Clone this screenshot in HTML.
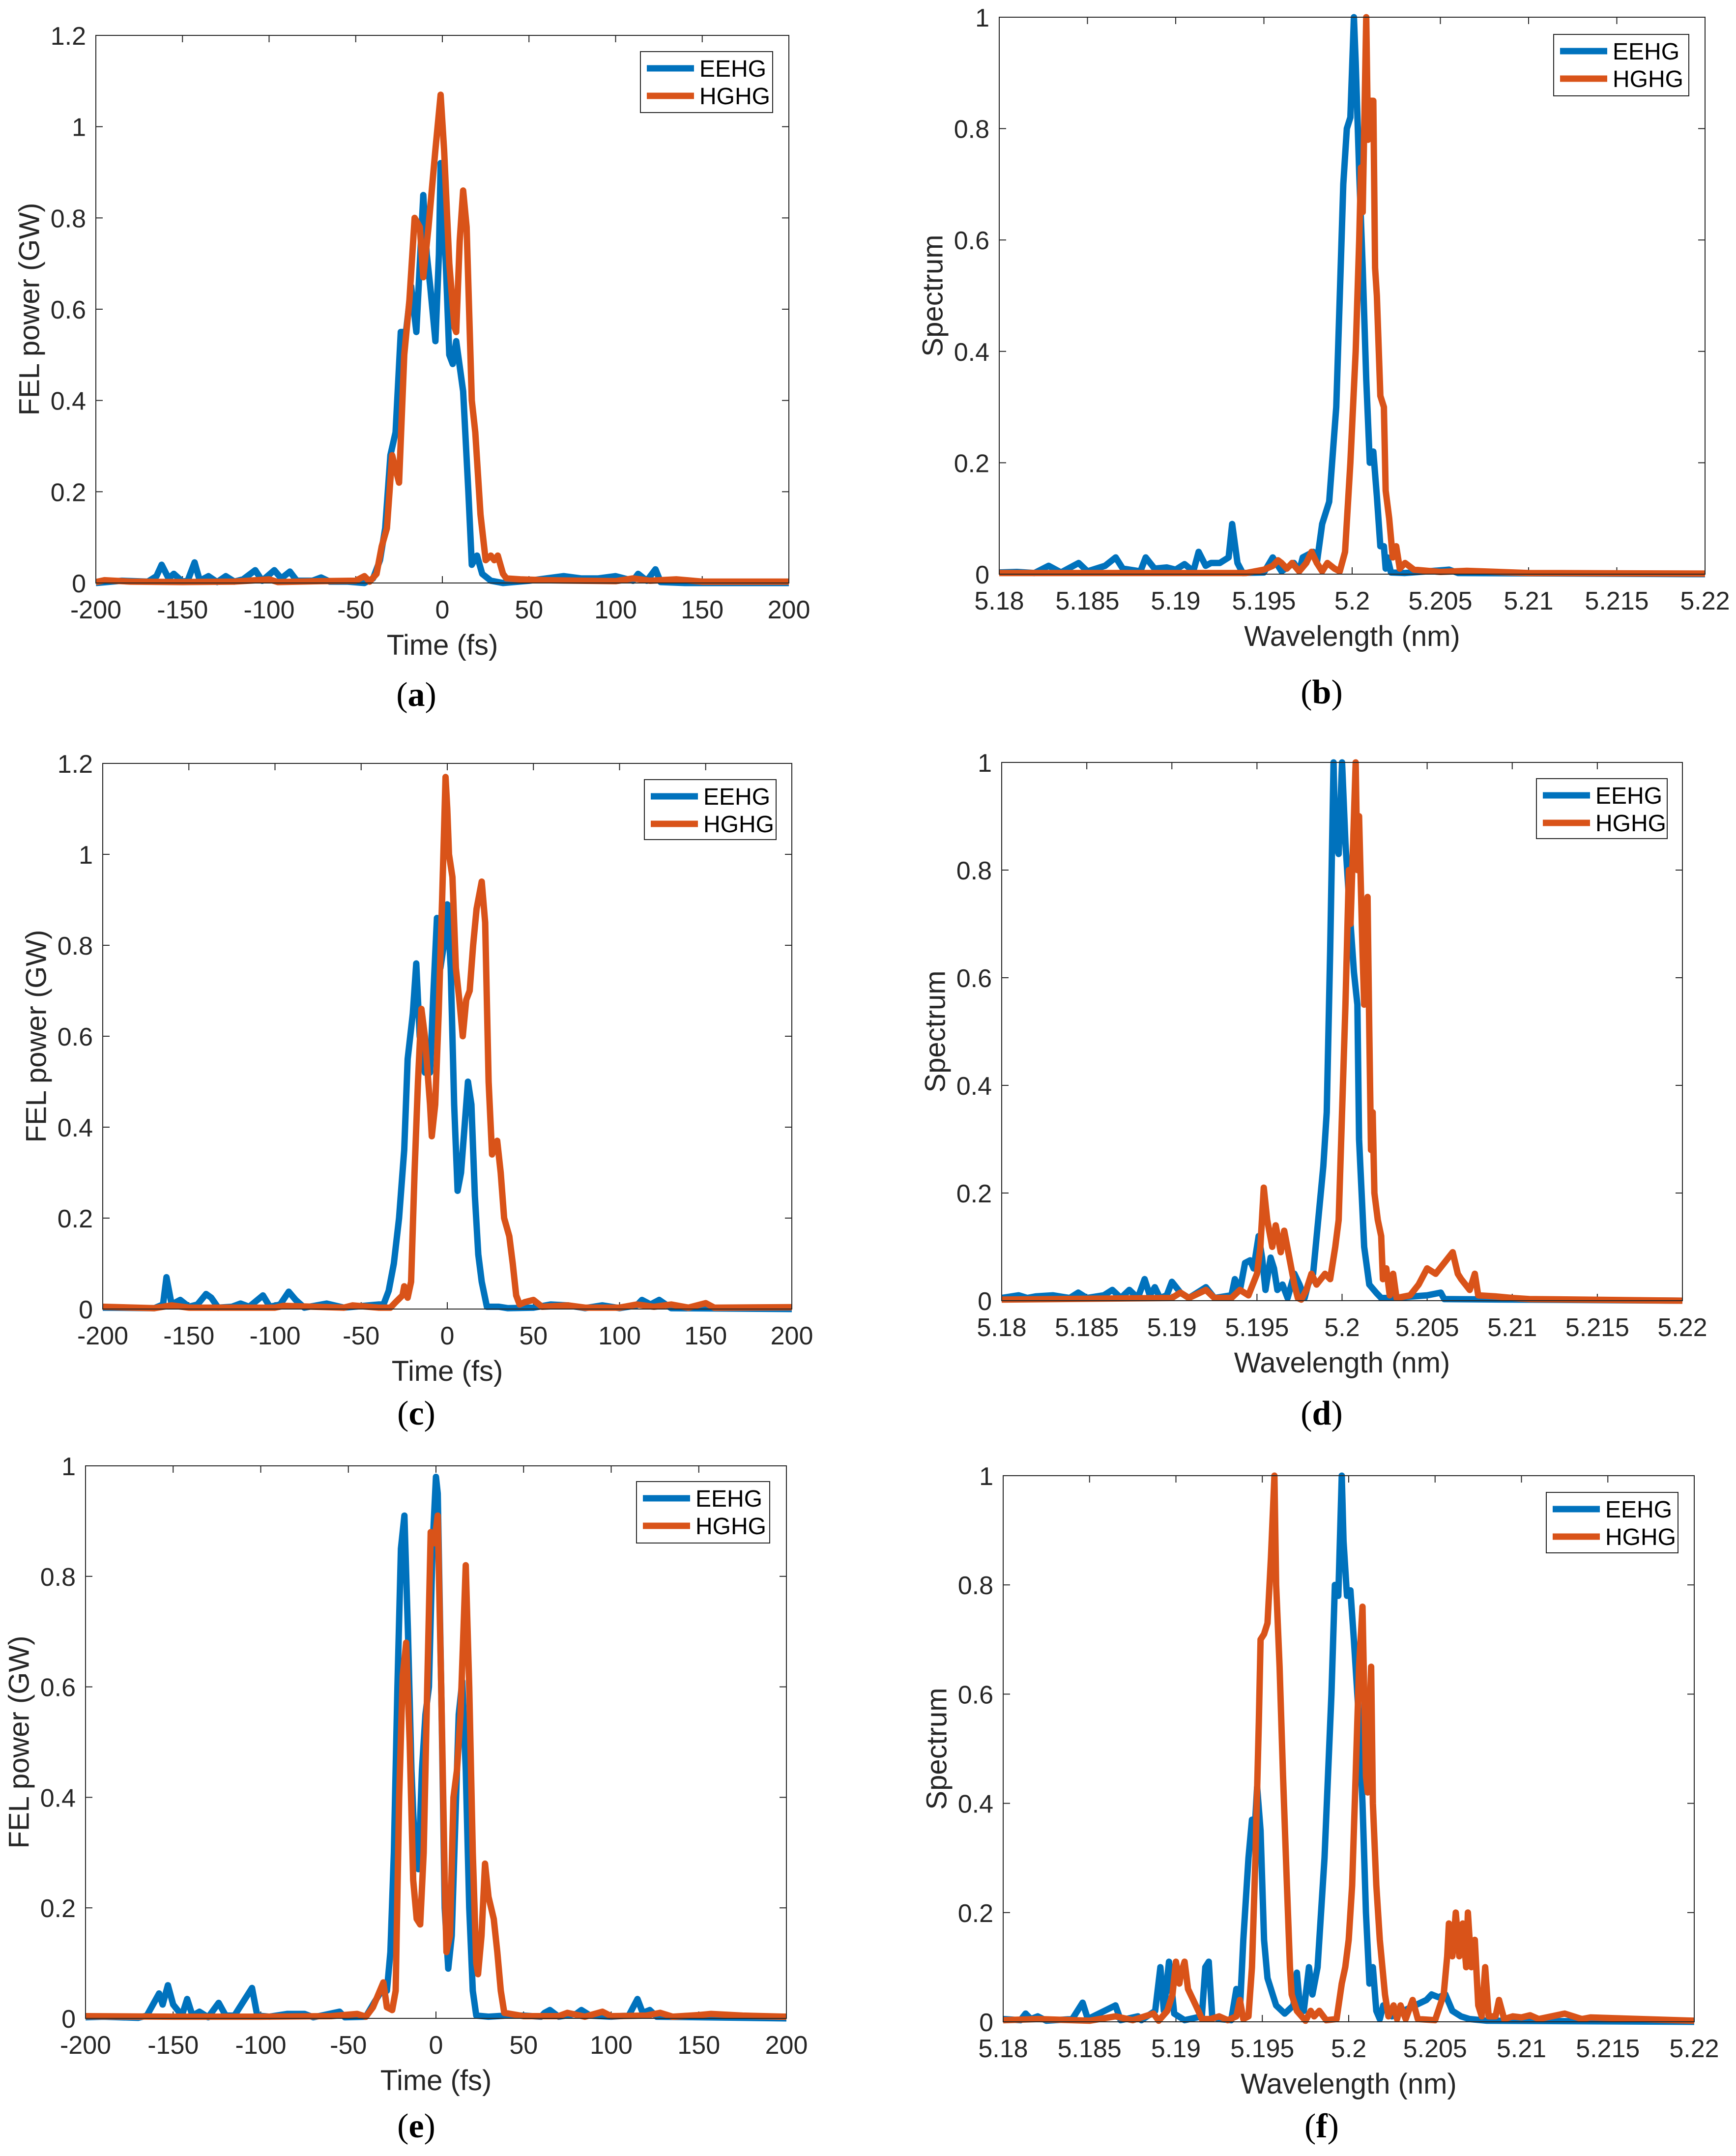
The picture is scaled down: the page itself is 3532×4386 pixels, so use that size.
<!DOCTYPE html>
<html><head><meta charset="utf-8"><style>
html,body{margin:0;padding:0;background:#fff;}
svg{display:block;}
text{font-family:"Liberation Sans",sans-serif;fill:#262626;}
</style></head><body>
<svg id="fig" xmlns="http://www.w3.org/2000/svg" width="3532" height="4386" viewBox="0 0 3532 4386"></svg>
<script>
// ---------- tick label arrays ----------
const timeTicks = [-200,-150,-100,-50,0,50,100,150,200];
const powTicks12 = [0,0.2,0.4,0.6,0.8,1,1.2];
const powTicks10 = [0,0.2,0.4,0.6,0.8,1];
const specTicks = [0,0.2,0.4,0.6,0.8,1];
const waveTicks = [5.18,5.185,5.19,5.195,5.2,5.205,5.21,5.215,5.22];
const waveTickLabels = ["5.18","5.185","5.19","5.195","5.2","5.205","5.21","5.215","5.22"];
const seriesNames = ["EEHG","HGHG"];

// ---------- series data [x, y] ----------
const aEEHG = [[-200,0],[-185,0.005],[-170,0.003],[-165,0.015],[-162,0.04],[-158,0.01],[-155,0.02],[-150,0.003],[-147,0.005],[-143,0.045],[-140,0.005],[-135,0.015],[-130,0.002],[-125,0.015],[-120,0.003],[-115,0.008],[-108,0.028],[-104,0.005],[-97,0.028],[-93,0.01],[-88,0.025],[-84,0.005],[-75,0.005],[-70,0.012],[-65,0.003],[-55,0.003],[-45,0],[-40,0.01],[-36,0.05],[-33,0.12],[-30,0.28],[-27,0.33],[-24,0.55],[-21,0.55],[-18,0.65],[-15,0.55],[-11,0.85],[-9,0.72],[-7,0.65],[-4,0.53],[-2,0.72],[-1,0.92],[2,0.7],[4,0.5],[6,0.48],[8,0.53],[12,0.42],[15,0.2],[17,0.04],[20,0.06],[23,0.02],[28,0.005],[35,0],[50,0.005],[60,0.01],[70,0.015],[80,0.01],[90,0.01],[100,0.015],[110,0.005],[113,0.02],[118,0.005],[123,0.03],[126,0.002],[140,0],[200,0]];
const aHGHG = [[-200,0.002],[-195,0.006],[-180,0.003],[-150,0.002],[-120,0.003],[-100,0.008],[-95,0.002],[-70,0.004],[-50,0.005],[-45,0.015],[-42,0.003],[-38,0.02],[-35,0.08],[-32,0.12],[-29,0.28],[-25,0.22],[-22,0.5],[-19,0.62],[-16,0.8],[-13,0.78],[-11,0.67],[-8,0.78],[-4,0.95],[-1,1.07],[1,0.95],[4,0.7],[7,0.56],[8,0.55],[10,0.75],[12,0.86],[14,0.78],[17,0.4],[19,0.33],[22,0.15],[25,0.05],[28,0.06],[30,0.05],[32,0.06],[35,0.02],[37,0.01],[45,0.008],[60,0.006],[80,0.005],[100,0.004],[110,0.01],[120,0.005],[135,0.008],[150,0.003],[200,0.003]];
const cEEHG = [[-200,0.003],[-170,0.002],[-165,0.01],[-163,0.07],[-160,0.01],[-155,0.02],[-150,0.005],[-145,0.01],[-140,0.033],[-137,0.025],[-133,0.003],[-125,0.005],[-120,0.012],[-115,0.005],[-107,0.03],[-103,0.005],[-97,0.01],[-92,0.038],[-88,0.02],[-83,0.003],[-70,0.012],[-60,0.003],[-40,0.01],[-37,0.01],[-34,0.04],[-31,0.1],[-28,0.2],[-25,0.35],[-23,0.55],[-20,0.65],[-18,0.76],[-16,0.6],[-13,0.52],[-10,0.52],[-8,0.7],[-6,0.86],[-4,0.75],[-2,0.8],[0,0.89],[2,0.75],[4,0.45],[6,0.26],[8,0.3],[10,0.4],[12,0.5],[14,0.45],[16,0.25],[18,0.12],[20,0.06],[23,0.005],[30,0.005],[35,0.002],[50,0.003],[60,0.01],[70,0.008],[80,0.002],[90,0.008],[100,0.002],[110,0.008],[113,0.02],[118,0.01],[123,0.02],[130,0.002],[200,0]];
const cHGHG = [[-200,0.005],[-170,0.002],[-160,0.008],[-150,0.003],[-100,0.003],[-95,0.007],[-60,0.003],[-55,0.008],[-40,0.003],[-33,0.003],[-30,0.015],[-26,0.03],[-25,0.05],[-23,0.025],[-21,0.06],[-19,0.3],[-17,0.5],[-15,0.66],[-13,0.6],[-10,0.45],[-9,0.38],[-7,0.45],[-5,0.65],[-3,0.9],[-1,1.17],[0,1.1],[1,1.0],[3,0.95],[5,0.75],[7,0.68],[9,0.6],[11,0.68],[13,0.7],[15,0.8],[17,0.88],[20,0.94],[22,0.85],[24,0.5],[26,0.34],[29,0.37],[31,0.3],[33,0.2],[36,0.16],[38,0.1],[40,0.03],[42,0.01],[45,0.015],[50,0.02],[55,0.005],[70,0.008],[80,0.003],[100,0.003],[110,0.01],[120,0.005],[130,0.01],[140,0.003],[150,0.013],[155,0.003],[200,0.004]];
const eEEHG = [[-200,0.002],[-190,0.003],[-170,0.001],[-165,0.005],[-158,0.045],[-156,0.025],[-153,0.06],[-150,0.025],[-145,0.005],[-142,0.035],[-139,0.005],[-135,0.012],[-130,0.002],[-124,0.028],[-120,0.005],[-115,0.005],[-105,0.055],[-102,0.005],[-95,0.003],[-85,0.008],[-75,0.008],[-70,0.002],[-55,0.012],[-52,0.002],[-40,0.003],[-35,0.03],[-31,0.05],[-28,0.05],[-26,0.12],[-24,0.3],[-22,0.6],[-20,0.85],[-18,0.91],[-16,0.7],[-14,0.45],[-12,0.3],[-10,0.27],[-8,0.45],[-6,0.55],[-4,0.6],[-2,0.85],[0,0.98],[1,0.95],[3,0.6],[5,0.2],[7,0.09],[9,0.15],[11,0.35],[13,0.55],[15,0.61],[17,0.45],[19,0.2],[21,0.05],[23,0.005],[30,0.003],[40,0.005],[50,0.005],[60,0.003],[62,0.01],[65,0.015],[70,0.003],[80,0.008],[83,0.015],[88,0.005],[100,0.003],[110,0.005],[115,0.035],[118,0.01],[122,0.015],[126,0.003],[200,0]];
const eHGHG = [[-200,0.004],[-150,0.003],[-100,0.003],[-60,0.004],[-45,0.008],[-40,0.003],[-36,0.02],[-32,0.05],[-30,0.065],[-28,0.02],[-25,0.015],[-23,0.05],[-21,0.4],[-19,0.62],[-17,0.68],[-15,0.5],[-13,0.25],[-11,0.18],[-9,0.17],[-7,0.3],[-5,0.6],[-3,0.88],[-1,0.86],[1,0.91],[3,0.6],[5,0.25],[6,0.12],[8,0.15],[10,0.4],[12,0.45],[14,0.55],[17,0.82],[19,0.6],[21,0.3],[23,0.1],[24,0.08],[26,0.15],[28,0.28],[30,0.22],[33,0.18],[35,0.12],[37,0.05],[39,0.01],[50,0.004],[70,0.004],[75,0.01],[85,0.003],[95,0.012],[100,0.004],[120,0.005],[128,0.01],[135,0.003],[150,0.006],[157,0.008],[175,0.005],[200,0.003]];
const bEEHG = [[5.18,0.003],[5.181,0.004],[5.182,0.002],[5.1828,0.015],[5.1835,0.003],[5.1845,0.02],[5.185,0.005],[5.186,0.015],[5.1866,0.03],[5.187,0.01],[5.188,0.005],[5.1883,0.03],[5.1888,0.01],[5.1895,0.012],[5.19,0.008],[5.1905,0.018],[5.191,0.005],[5.1913,0.04],[5.1917,0.015],[5.192,0.02],[5.1925,0.02],[5.193,0.03],[5.1932,0.09],[5.1935,0.02],[5.1938,0.002],[5.195,0.003],[5.1955,0.03],[5.196,0.005],[5.1967,0.02],[5.197,0.005],[5.1972,0.03],[5.1978,0.04],[5.198,0.02],[5.1983,0.09],[5.1987,0.13],[5.1991,0.3],[5.1993,0.5],[5.1995,0.7],[5.1997,0.8],[5.1999,0.82],[5.2001,1.0],[5.2002,0.92],[5.2004,0.72],[5.2006,0.55],[5.2008,0.35],[5.201,0.2],[5.2012,0.22],[5.2014,0.14],[5.2016,0.05],[5.2018,0.05],[5.2019,0.01],[5.202,0.03],[5.2022,0.003],[5.203,0.002],[5.2055,0.008],[5.206,0.002],[5.22,0]];
const bHGHG = [[5.18,0.002],[5.19,0.002],[5.194,0.002],[5.1945,0.005],[5.195,0.008],[5.1955,0.015],[5.1958,0.025],[5.196,0.02],[5.1963,0.01],[5.1966,0.02],[5.197,0.005],[5.1974,0.02],[5.1977,0.04],[5.198,0.02],[5.1983,0.005],[5.1986,0.02],[5.199,0.01],[5.1993,0.005],[5.1996,0.04],[5.1999,0.2],[5.2002,0.4],[5.2004,0.6],[5.2005,0.73],[5.2006,0.65],[5.2008,1.0],[5.2009,0.78],[5.201,0.85],[5.2012,0.85],[5.2013,0.55],[5.2014,0.5],[5.2016,0.32],[5.2018,0.3],[5.2019,0.15],[5.2021,0.1],[5.2023,0.03],[5.2025,0.05],[5.2027,0.01],[5.203,0.02],[5.2035,0.008],[5.205,0.004],[5.2065,0.006],[5.21,0.002],[5.22,0.001]];
const dEEHG = [[5.18,0.005],[5.181,0.01],[5.1815,0.005],[5.182,0.008],[5.183,0.01],[5.184,0.005],[5.1845,0.015],[5.185,0.005],[5.186,0.01],[5.1865,0.02],[5.187,0.005],[5.1875,0.02],[5.188,0.005],[5.1884,0.04],[5.1887,0.01],[5.189,0.025],[5.1893,0.005],[5.1897,0.01],[5.19,0.035],[5.1905,0.015],[5.191,0.005],[5.192,0.025],[5.1925,0.005],[5.1935,0.01],[5.1937,0.04],[5.194,0.02],[5.1943,0.07],[5.1946,0.075],[5.1948,0.06],[5.1951,0.12],[5.1953,0.08],[5.1955,0.02],[5.1958,0.08],[5.196,0.06],[5.1962,0.02],[5.1965,0.03],[5.1968,0.005],[5.1972,0.05],[5.1975,0.03],[5.1978,0.005],[5.198,0.03],[5.1983,0.05],[5.1986,0.15],[5.1989,0.25],[5.1991,0.35],[5.1993,0.65],[5.1995,1.0],[5.1996,0.85],[5.1998,0.83],[5.2,1.0],[5.2002,0.85],[5.2005,0.7],[5.2007,0.61],[5.2009,0.55],[5.201,0.3],[5.2013,0.1],[5.2016,0.03],[5.202,0.015],[5.2023,0.005],[5.203,0.005],[5.205,0.01],[5.2058,0.015],[5.206,0.003],[5.21,0.002],[5.22,0]];
const dHGHG = [[5.18,0.002],[5.19,0.005],[5.1905,0.015],[5.191,0.005],[5.192,0.02],[5.1925,0.005],[5.1935,0.005],[5.194,0.02],[5.1945,0.01],[5.195,0.05],[5.1952,0.1],[5.1954,0.21],[5.1956,0.15],[5.1959,0.1],[5.1961,0.14],[5.1964,0.09],[5.1966,0.13],[5.1969,0.08],[5.1972,0.03],[5.1974,0.005],[5.1976,0.002],[5.1979,0.02],[5.1982,0.05],[5.1985,0.03],[5.199,0.05],[5.1993,0.04],[5.1996,0.1],[5.1998,0.15],[5.2,0.35],[5.2002,0.55],[5.2004,0.8],[5.2005,0.7],[5.2007,0.9],[5.2008,1.0],[5.2009,0.8],[5.201,0.9],[5.2012,0.65],[5.2013,0.55],[5.2015,0.75],[5.2016,0.5],[5.2017,0.28],[5.2018,0.35],[5.2019,0.2],[5.2021,0.15],[5.2023,0.12],[5.2024,0.04],[5.2026,0.06],[5.2028,0.01],[5.203,0.05],[5.2032,0.005],[5.204,0.01],[5.2045,0.03],[5.205,0.06],[5.2055,0.05],[5.206,0.07],[5.2065,0.09],[5.2068,0.05],[5.207,0.04],[5.2075,0.02],[5.2078,0.05],[5.208,0.01],[5.209,0.008],[5.21,0.005],[5.211,0.003],[5.22,0]];
const fEEHG = [[5.18,0.005],[5.181,0.003],[5.1813,0.015],[5.1816,0.005],[5.182,0.01],[5.1825,0.002],[5.184,0.005],[5.1843,0.02],[5.1846,0.035],[5.1849,0.005],[5.1865,0.03],[5.1868,0.003],[5.1878,0.01],[5.188,0.003],[5.1888,0.02],[5.1891,0.1],[5.1893,0.02],[5.1896,0.11],[5.1899,0.015],[5.1905,0.003],[5.1915,0.01],[5.1917,0.1],[5.1919,0.11],[5.1921,0.01],[5.1925,0.005],[5.1932,0.003],[5.1935,0.06],[5.1937,0.02],[5.1939,0.15],[5.1942,0.3],[5.1944,0.37],[5.1945,0.32],[5.1947,0.43],[5.1949,0.35],[5.1951,0.15],[5.1953,0.08],[5.1956,0.05],[5.1958,0.03],[5.1963,0.015],[5.1968,0.03],[5.197,0.09],[5.1972,0.02],[5.1974,0.02],[5.1977,0.1],[5.1979,0.05],[5.1982,0.1],[5.1986,0.3],[5.199,0.6],[5.1992,0.8],[5.1994,0.78],[5.1996,1.0],[5.1997,0.88],[5.1999,0.78],[5.2001,0.79],[5.2003,0.7],[5.2006,0.55],[5.2008,0.4],[5.201,0.2],[5.2012,0.07],[5.2014,0.1],[5.2016,0.02],[5.2018,0.005],[5.202,0.03],[5.2025,0.01],[5.2045,0.04],[5.2048,0.05],[5.2052,0.045],[5.2056,0.05],[5.206,0.02],[5.2065,0.01],[5.207,0.005],[5.208,0.002],[5.22,0]];
const fHGHG = [[5.18,0.003],[5.182,0.005],[5.185,0.002],[5.1865,0.01],[5.1875,0.003],[5.1887,0.015],[5.189,0.002],[5.1895,0.02],[5.1898,0.05],[5.19,0.11],[5.1902,0.07],[5.1903,0.09],[5.1905,0.11],[5.1907,0.06],[5.191,0.04],[5.1913,0.02],[5.1915,0.005],[5.192,0.005],[5.1925,0.01],[5.193,0.003],[5.1935,0.01],[5.1937,0.04],[5.1939,0.005],[5.1942,0.01],[5.1944,0.1],[5.1946,0.3],[5.1948,0.55],[5.1949,0.7],[5.1951,0.71],[5.1953,0.73],[5.1955,0.85],[5.1957,1.0],[5.1958,0.8],[5.196,0.65],[5.1962,0.45],[5.1964,0.27],[5.1966,0.1],[5.1967,0.05],[5.197,0.02],[5.1975,0.002],[5.1978,0.02],[5.198,0.01],[5.1983,0.02],[5.1987,0.003],[5.1993,0.005],[5.1996,0.07],[5.1998,0.1],[5.2,0.15],[5.2002,0.25],[5.2004,0.45],[5.2006,0.65],[5.2008,0.76],[5.2009,0.6],[5.201,0.45],[5.2011,0.42],[5.2012,0.55],[5.2013,0.65],[5.2014,0.4],[5.2016,0.25],[5.2018,0.15],[5.2021,0.05],[5.2023,0.01],[5.2026,0.03],[5.2028,0.005],[5.203,0.03],[5.2033,0.005],[5.2037,0.04],[5.204,0.005],[5.205,0.003],[5.2055,0.05],[5.2057,0.12],[5.2058,0.18],[5.206,0.12],[5.2062,0.2],[5.2064,0.12],[5.2066,0.18],[5.2068,0.1],[5.2069,0.2],[5.2071,0.1],[5.2073,0.15],[5.2075,0.03],[5.2077,0.01],[5.2079,0.1],[5.2081,0.01],[5.2085,0.01],[5.2087,0.04],[5.209,0.005],[5.2095,0.01],[5.21,0.008],[5.2105,0.012],[5.211,0.005],[5.2125,0.015],[5.2135,0.005],[5.214,0.008],[5.22,0.002]];

// ---------- layout ----------
const NS = "http://www.w3.org/2000/svg";
const svg = document.getElementById('fig');
const COLORS = ["#0072BD","#D95319"];
function mk(tag, attrs, parent){ const e=document.createElementNS(NS,tag); for(const k in attrs) e.setAttribute(k,attrs[k]); (parent||svg).appendChild(e); return e; }
function fmt(v){ return (Math.round(v*10)/10).toString(); }

const panels = [
 {id:'a', L:195, R:1605, T:72, B:1186, xmin:-200,xmax:200, ymax:1.2, xt:timeTicks, xl:timeTicks.map(String), yt:powTicks12, xtitle:"Time (fs)", ytitle:"FEL power (GW)", leg:[1303,105,269,124], lab:[847,1436], s:[aEEHG,aHGHG]},
 {id:'b', L:2033, R:3469, T:35, B:1168, xmin:5.18,xmax:5.22, ymax:1, xt:waveTicks, xl:waveTickLabels, yt:specTicks, xtitle:"Wavelength (nm)", ytitle:"Spectrum", leg:[3161,70,275,125], lab:[2689,1431], s:[bEEHG,bHGHG]},
 {id:'c', L:209, R:1611, T:1553, B:2663, xmin:-200,xmax:200, ymax:1.2, xt:timeTicks, xl:timeTicks.map(String), yt:powTicks12, xtitle:"Time (fs)", ytitle:"FEL power (GW)", leg:[1311,1586,268,122], lab:[847,2898], s:[cEEHG,cHGHG]},
 {id:'d', L:2038, R:3423, T:1551, B:2646, xmin:5.18,xmax:5.22, ymax:1, xt:waveTicks, xl:waveTickLabels, yt:specTicks, xtitle:"Wavelength (nm)", ytitle:"Spectrum", leg:[3126,1584,266,122], lab:[2689,2898], s:[dEEHG,dHGHG]},
 {id:'e', L:174, R:1600, T:2982, B:4106, xmin:-200,xmax:200, ymax:1, xt:timeTicks, xl:timeTicks.map(String), yt:powTicks10, xtitle:"Time (fs)", ytitle:"FEL power (GW)", leg:[1295,3014,271,125], lab:[847,4348], s:[eEEHG,eHGHG]},
 {id:'f', L:2041, R:3447, T:3002, B:4113, xmin:5.18,xmax:5.22, ymax:1, xt:waveTicks, xl:waveTickLabels, yt:specTicks, xtitle:"Wavelength (nm)", ytitle:"Spectrum", leg:[3146,3036,268,123], lab:[2689,4348], s:[fEEHG,fHGHG]}
];

panels.forEach(p=>{
  const g = mk('g',{});
  
  
  const X = v => p.L + (v-p.xmin)/(p.xmax-p.xmin)*(p.R-p.L);
  const Y = v => p.B - v/p.ymax*(p.B-p.T);
  const clipId='clip'+p.id;
  const cp=mk('clipPath',{id:clipId},g); mk('rect',{x:p.L,y:p.T-10,width:p.R-p.L,height:p.B-p.T+20},cp);
  p.xt.forEach((v,i)=>{
    const x=X(v);
    const t1=mk('line',{x1:x,y1:p.B,x2:x,y2:p.B-14,stroke:'#262626','stroke-width':2},g);
     
    mk('line',{x1:x,y1:p.T,x2:x,y2:p.T+14,stroke:'#262626','stroke-width':2},g);
    const tl=mk('text',{x:x,y:p.B+72,'font-size':52,'text-anchor':'middle'},g);
    tl.textContent=p.xl[i];
     
  });
  p.yt.forEach(v=>{
    const y=Y(v);
    const t1=mk('line',{x1:p.L,y1:y,x2:p.L+14,y2:y,stroke:'#262626','stroke-width':2},g);
     
    mk('line',{x1:p.R,y1:y,x2:p.R-14,y2:y,stroke:'#262626','stroke-width':2},g);
    const tl=mk('text',{x:p.L-20,y:y+19,'font-size':52,'text-anchor':'end'},g);
    tl.textContent=fmt(v);
     
  });
  p.s.forEach((arr,si)=>{
    const d=arr.map((pt,i)=>(i?'L':'M')+X(pt[0]).toFixed(1)+','+Y(pt[1]).toFixed(1)).join('');
    const path=mk('path',{d:d,fill:'none',stroke:COLORS[si],'stroke-width':13,'stroke-linejoin':'round','clip-path':'url(#'+clipId+')'},g);
    
    
  });
  const box=mk('rect',{x:p.L,y:p.T,width:p.R-p.L,height:p.B-p.T,fill:'none',stroke:'#262626','stroke-width':2},g);
   
  const xt=mk('text',{x:(p.L+p.R)/2,y:p.B+146,'font-size':58,'text-anchor':'middle'},g);
  xt.textContent=p.xtitle;
   
  const cy=(p.T+p.B)/2, cx=p.L-135;
  const yt=mk('text',{x:cx,y:cy,'font-size':58,'text-anchor':'middle','dominant-baseline':'central',transform:'rotate(-90 '+cx+' '+cy+')'},g);
  yt.textContent=p.ytitle;
   
  const [lx,ly,lw,lh]=p.leg;
  const lg=mk('g',{},g);
   
  mk('rect',{x:lx,y:ly,width:lw,height:lh,fill:'#fff',stroke:'#262626','stroke-width':2},lg);
  seriesNames.forEach((n,i)=>{
    const yy=ly+34+i*56;
    const ent=mk('g',{},lg);
     
    mk('line',{x1:lx+13,y1:yy,x2:lx+109,y2:yy,stroke:COLORS[i],'stroke-width':13},ent);
    const tx=mk('text',{x:lx+120,y:yy+17,'font-size':48,style:'fill:#000'},ent);
    tx.textContent=n;
  });
  const pl=mk('text',{x:p.lab[0],y:p.lab[1],'font-size':70,'text-anchor':'middle',style:'font-family:"Liberation Serif",serif;fill:#000'},g);
  pl.innerHTML='(<tspan font-weight="bold">'+p.id+'</tspan>)';
   
});
</script>
</body></html>
